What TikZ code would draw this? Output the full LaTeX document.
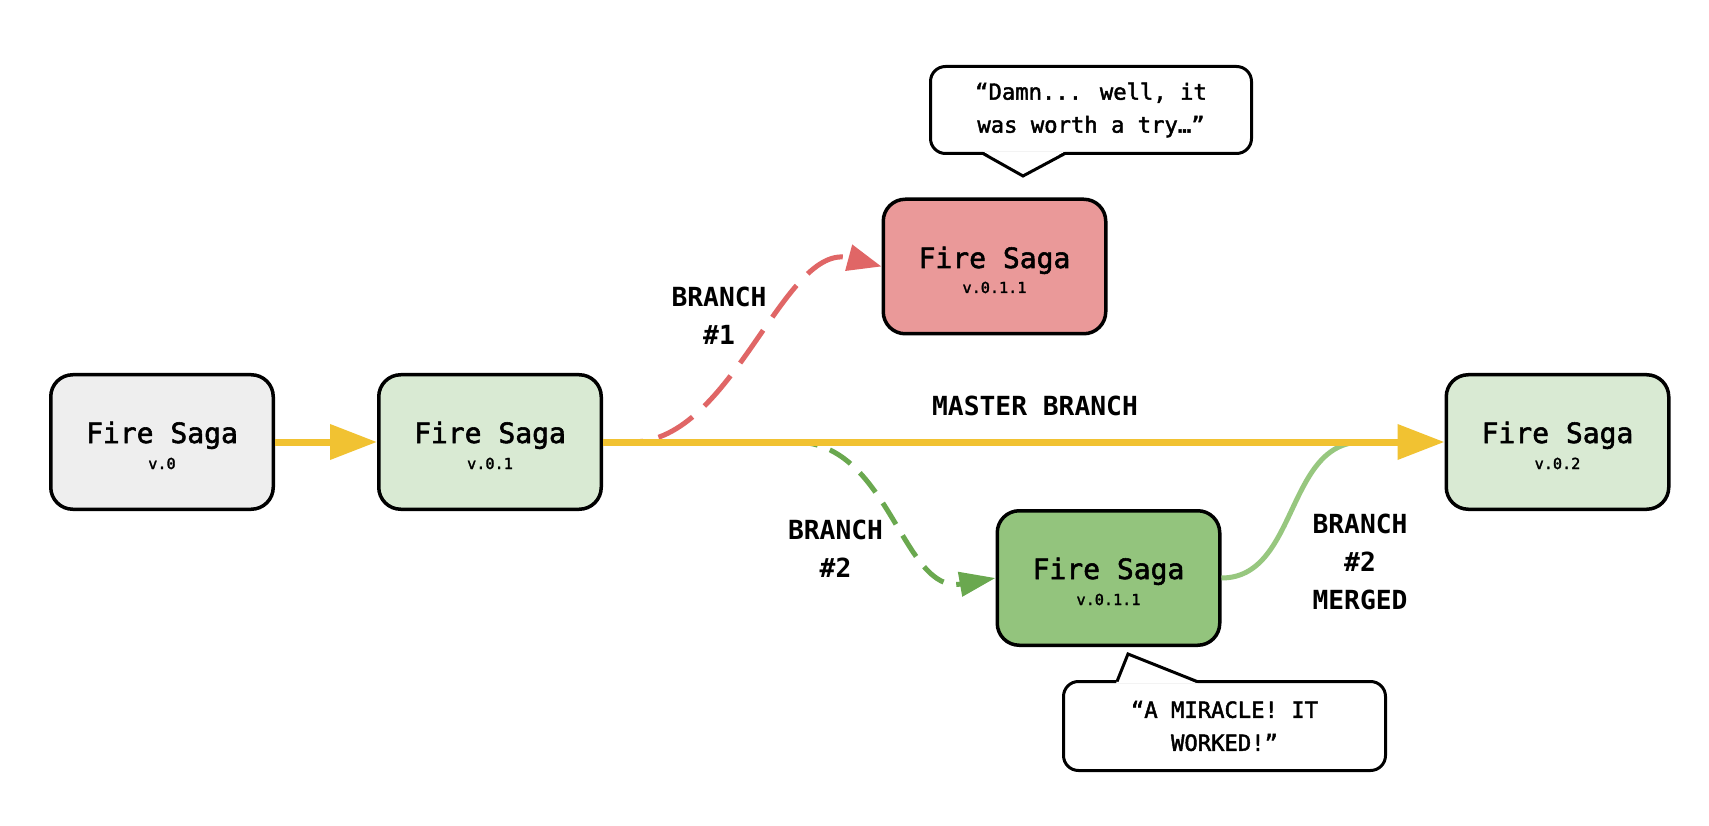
\documentclass[tikz,border=0pt]{standalone}
\usepackage{fontspec}
\setmonofont{DejaVu Sans Mono}
\newfontfamily\semimono[FakeBold=2]{DejaVu Sans Mono}
\usetikzlibrary{arrows.meta}
\definecolor{greyfill}{HTML}{EEEEEE}
\definecolor{lightgreen}{HTML}{D9EAD3}
\definecolor{redfill}{HTML}{EA9999}
\definecolor{greenfill}{HTML}{93C47D}
\definecolor{masteryellow}{HTML}{F1C232}
\definecolor{redline}{HTML}{E06666}
\definecolor{greenline}{HTML}{6AA84F}
\definecolor{mergeline}{HTML}{97C77F}
\begin{document}
\begin{tikzpicture}[x=1pt,y=-1pt,
  box/.style={draw=black, line width=3.5pt, rounded corners=22pt, minimum width=222.5pt, minimum height=134.5pt, inner sep=0pt},
  title/.style={font=\semimono\fontsize{28}{28}\selectfont, anchor=base, inner sep=0pt},
  ver/.style={font=\semimono\fontsize{15.2}{15.2}\selectfont, anchor=base, inner sep=0pt},
  lbl/.style={font=\ttfamily\bfseries\fontsize{26.3}{38}\selectfont, align=center, inner sep=0pt},
  callout/.style={draw=black, fill=white, line width=3pt, rounded corners=15pt, inner sep=0pt, align=center, font=\semimono\fontsize{22.2}{33}\selectfont},
  pointer/.style={draw=black, line width=3pt, line join=miter},
  master/.style={draw=masteryellow, line width=7pt, -{Triangle[length=47pt,width=34pt]}},
  redbranch/.style={draw=redline, line width=5pt, dash pattern=on 40pt off 16pt, -{Triangle[length=34pt,width=26pt]}},
  greenbranch/.style={draw=greenline, line width=5pt, dash pattern=on 25pt off 13pt, -{Triangle[length=36pt,width=24pt]}},
  merged/.style={draw=mergeline, line width=5pt}
]
\fill[white] (0,0) rectangle (1709,826);
\useasboundingbox (0,0) rectangle (1709,826);

% boxes
\node[box, fill=greyfill] (b1) at (162,442) {};
\node[box, fill=lightgreen] (b2) at (490,442) {};
\node[box, fill=redfill] (r) at (994.5,266.5) {};
\node[box, fill=greenfill] (g) at (1108.5,578) {};
\node[box, fill=lightgreen] (b5) at (1557.5,442) {};

\node[title] (t1) at (162,443) {Fire Saga};
\node[ver] (v1) at (162,469) {v.0};
\node[title] (t2) at (490,443) {Fire Saga};
\node[ver] (v2) at (490,469) {v.0.1};
\node[title] (t3) at (994.5,268) {Fire Saga};
\node[ver] (v3) at (994.5,293) {v.0.1.1};
\node[title] (t4) at (1108.5,579) {Fire Saga};
\node[ver] (v4) at (1108.5,605) {v.0.1.1};
\node[title] (t5) at (1557.5,443) {Fire Saga};
\node[ver] (v5) at (1557.5,469) {v.0.2};

% connectors
\coordinate (rs) at (632,442);
\coordinate (gs) at (795,442);
\coordinate (m) at (1362,442);
\draw[redbranch] (b2.east) -- (rs) to[out=0,in=165,looseness=0.85] (r.west);
\draw[greenbranch] (b2.east) -- (gs) to[out=0,in=190] (g.west);
\draw[merged] (g.east) to[out=0,in=180] (m);
\draw[master] (b1.east) -- (b2.west);
\draw[master] (b2.east) -- (b5.west);

% labels
\node[lbl] (lm) at (1035,406) {MASTER BRANCH};
\node[lbl] (l1) at (719,316) {BRANCH\\\#1};
\node[lbl] (l2) at (835.5,549) {BRANCH\\\#2};
\node[lbl] (l3) at (1360,561.5) {BRANCH\\\#2\\MERGED};

% callouts
\node[callout, minimum width=321pt, minimum height=87pt] (c1) at (1091,110) {“Damn... well, it\\was worth a try…”};
\fill[white] (983,151.5) -- (1065,151.5) -- (1023,175) -- cycle;
\draw[pointer] (983,153.5) -- (1023,176) -- (1065,153.5);

\node[callout, minimum width=322pt, minimum height=89pt] (c2) at (1224.5,726) {“A MIRACLE! IT\\WORKED!”};
\fill[white] (1116,683.5) -- (1128,655) -- (1198,683.5) -- cycle;
\draw[pointer] (1117,681.5) -- (1128,654) -- (1197,681.5);
\end{tikzpicture}
\end{document}
